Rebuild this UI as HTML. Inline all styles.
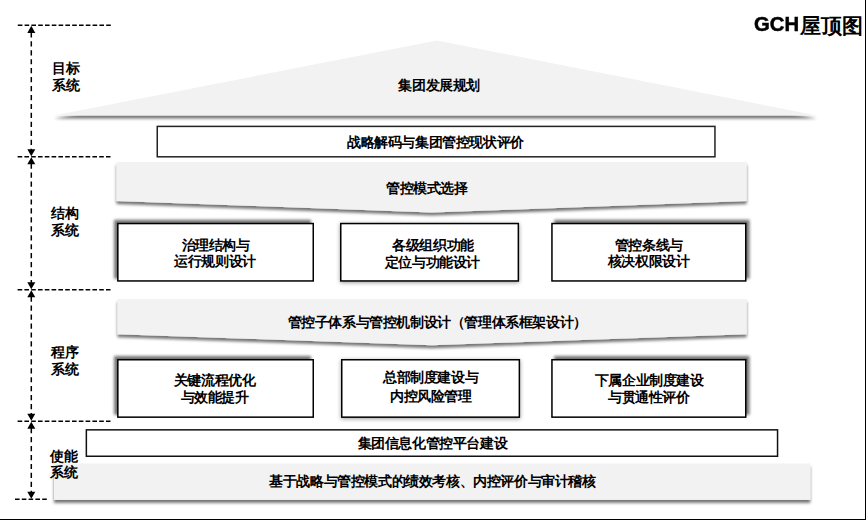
<!DOCTYPE html>
<html>
<head>
<meta charset="utf-8">
<style>
html,body{margin:0;padding:0;background:#fff;}
body{width:866px;height:520px;position:relative;overflow:hidden;font-family:"Liberation Sans",sans-serif;font-weight:bold;color:#000;}
svg{position:absolute;left:0;top:0;}
.c,.l,.g{position:absolute;white-space:nowrap;font-size:14px;line-height:16px;letter-spacing:-0.4px;margin-top:-1px;}
.c{width:400px;text-align:center;}
.g{font-size:21px;line-height:26px;letter-spacing:0;margin-top:0;}
</style>
</head>
<body>
<svg width="866" height="520" viewBox="0 0 866 520">
<defs>
<filter id="sh" x="-20%" y="-40%" width="140%" height="180%">
<feGaussianBlur in="SourceAlpha" stdDeviation="1.5"/>
<feOffset dx="0" dy="2.5"/>
<feComponentTransfer><feFuncA type="linear" slope="0.55"/></feComponentTransfer>
<feMerge><feMergeNode/><feMergeNode in="SourceGraphic"/></feMerge>
</filter>
<filter id="c1" x="-20%" y="-40%" width="140%" height="180%">
<feGaussianBlur in="SourceAlpha" stdDeviation="1.6"/>
<feOffset dx="-3" dy="-3"/>
<feComponentTransfer><feFuncA type="linear" slope="0.55"/></feComponentTransfer>
<feMerge><feMergeNode/><feMergeNode in="SourceGraphic"/></feMerge>
</filter>
<filter id="c2" x="-20%" y="-40%" width="140%" height="180%">
<feGaussianBlur in="SourceAlpha" stdDeviation="2"/>
<feOffset dx="0" dy="1"/>
<feComponentTransfer><feFuncA type="linear" slope="0.4"/></feComponentTransfer>
<feMerge><feMergeNode/><feMergeNode in="SourceGraphic"/></feMerge>
</filter>
<filter id="c3" x="-20%" y="-40%" width="140%" height="180%">
<feGaussianBlur in="SourceAlpha" stdDeviation="1.6"/>
<feOffset dx="3" dy="-3"/>
<feComponentTransfer><feFuncA type="linear" slope="0.55"/></feComponentTransfer>
<feMerge><feMergeNode/><feMergeNode in="SourceGraphic"/></feMerge>
</filter>
</defs>
<!-- roof triangle -->
<polygon points="54,115.5 437,40.5 817,115.5" fill="#f2f2f2" filter="url(#sh)"/>
<!-- strategy box -->
<rect x="157.25" y="126.4" width="557.7" height="30.4" fill="#fff" stroke="#222" stroke-width="1.5"/>
<!-- pentagon 1 -->
<polygon points="116.5,162 746.7,162 746.7,201 431.6,212.5 116.5,201" fill="#f2f2f2" filter="url(#sh)"/>
<!-- row1 boxes -->
<g>
<rect filter="url(#c1)" x="117.85" y="223.55" width="195.4" height="57.4" fill="#fff" stroke="#000" stroke-width="1.5"/>
<rect filter="url(#c2)" x="340.75" y="223.55" width="177.6" height="57.4" fill="#fff" stroke="#000" stroke-width="1.5"/>
<rect filter="url(#c3)" x="551.95" y="223.55" width="193.8" height="57.4" fill="#fff" stroke="#000" stroke-width="1.5"/>
</g>
<!-- pentagon 2 -->
<polygon points="117.5,299 746.7,299 746.7,334.2 432,345.2 117.5,334.2" fill="#f2f2f2" filter="url(#sh)"/>
<!-- row2 boxes -->
<g>
<rect filter="url(#c1)" x="117.85" y="359.75" width="195.4" height="57.4" fill="#fff" stroke="#000" stroke-width="1.5"/>
<rect filter="url(#c2)" x="341.75" y="359.75" width="177.6" height="57.4" fill="#fff" stroke="#000" stroke-width="1.5"/>
<rect filter="url(#c3)" x="551.95" y="359.75" width="193.8" height="57.4" fill="#fff" stroke="#000" stroke-width="1.5"/>
</g>
<!-- info platform box -->
<rect x="86.35" y="429.85" width="691.2" height="26.4" fill="#fff" stroke="#111" stroke-width="1.5"/>
<!-- bottom gray rect -->
<rect x="54" y="463.5" width="756.3" height="36.4" fill="#f2f2f2" filter="url(#sh)"/>
<!-- dashed guides -->
<g stroke="#000" stroke-width="1.6" stroke-dasharray="4.6 2.2" fill="none">
<line x1="17.8" y1="25.3" x2="111" y2="25.3"/>
<line x1="17.6" y1="156.7" x2="110.5" y2="156.7"/>
<line x1="17.6" y1="289.7" x2="110.5" y2="289.7"/>
<line x1="17.6" y1="421.2" x2="110.5" y2="421.2"/>
<line x1="15" y1="499.3" x2="47.7" y2="499.3"/>
</g>
<g stroke="#000" stroke-width="1.5" stroke-dasharray="5.2 3.75" fill="none">
<line x1="31.3" y1="32.3" x2="31.3" y2="150"/>
<line x1="31.3" y1="163.6" x2="31.3" y2="283"/>
<line x1="31.3" y1="296.6" x2="31.3" y2="414"/>
<line x1="31.3" y1="428.1" x2="31.3" y2="492"/>
</g>
<g fill="#000">
<polygon points="31.3,25.8 27.3,33 35.3,33"/>
<polygon points="31.3,156.2 27.3,149.2 35.3,149.2"/>
<polygon points="31.3,157.2 27.3,164.2 35.3,164.2"/>
<polygon points="31.3,289.2 27.3,282.2 35.3,282.2"/>
<polygon points="31.3,290.2 27.3,297.2 35.3,297.2"/>
<polygon points="31.3,420.7 27.3,413.7 35.3,413.7"/>
<polygon points="31.3,421.7 27.3,428.7 35.3,428.7"/>
<polygon points="31.3,498.8 27.3,491.7 35.3,491.7"/>
</g>
<!-- frame -->
<rect x="0" y="519" width="866" height="1" fill="#000"/>
<rect x="865" y="0" width="1" height="520" fill="#000"/>
</svg>

<div class="g" style="left:754px;top:10.9px;font-size:19.5px;letter-spacing:0;-webkit-text-stroke:0.5px #000;transform:scaleX(1.04);transform-origin:0 0;">GCH</div>
<div class="g" style="left:799.5px;top:12.6px;">屋顶图</div>
<div class="l" style="left:52px;top:61.45px;">目标</div>
<div class="l" style="left:52px;top:78.3px;">系统</div>
<div class="l" style="left:51px;top:206px;">结构</div>
<div class="l" style="left:51px;top:222.85px;">系统</div>
<div class="l" style="left:51px;top:344.65px;">程序</div>
<div class="l" style="left:51px;top:361.7px;">系统</div>
<div class="l" style="left:50px;top:448.65px;">使能</div>
<div class="l" style="left:50px;top:464.8px;">系统</div>
<div class="c" style="left:239.25px;top:78.3px;">集团发展规划</div>
<div class="c" style="left:235.40px;top:135.2px;">战略解码与集团管控现状评价</div>
<div class="c" style="left:226.80px;top:181.15px;">管控模式选择</div>
<div class="c" style="left:15.60px;top:238.3px;">治理结构与</div>
<div class="c" style="left:15.05px;top:253.9px;">运行规则设计</div>
<div class="c" style="left:233.05px;top:237.9px;">各级组织功能</div>
<div class="c" style="left:232.35px;top:254.5px;">定位与功能设计</div>
<div class="c" style="left:448.85px;top:237.9px;">管控条线与</div>
<div class="c" style="left:448.55px;top:253.8px;">核决权限设计</div>
<div class="c" style="left:237.15px;top:315.35px;">管控子体系与管控机制设计（管理体系框架设计）</div>
<div class="c" style="left:14.60px;top:372.95px;">关键流程优化</div>
<div class="c" style="left:14.60px;top:389.6px;">与效能提升</div>
<div class="c" style="left:230.65px;top:369.75px;">总部制度建设与</div>
<div class="c" style="left:230.85px;top:388.85px;">内控风险管理</div>
<div class="c" style="left:449.20px;top:373px;">下属企业制度建设</div>
<div class="c" style="left:448.80px;top:389.5px;">与贯通性评价</div>
<div class="c" style="left:232.45px;top:435.85px;">集团信息化管控平台建设</div>
<div class="c" style="left:232.35px;top:474.25px;">基于战略与管控模式的绩效考核、内控评价与审计稽核</div>
</body>
</html>
